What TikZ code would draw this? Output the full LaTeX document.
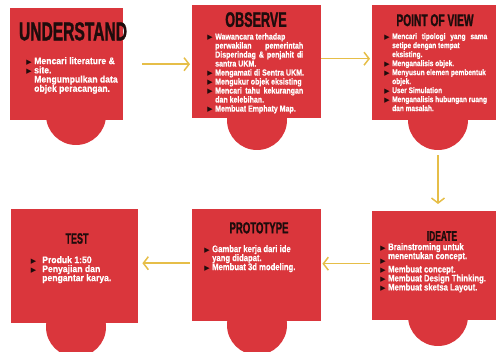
\documentclass[tikz,border=0pt]{standalone}
\usepackage{fontspec}
\setmainfont{Liberation Sans}
\newfontfamily\headfont{Liberation Sans}[FakeStretch=0.6,FakeBold=1.2]
\newfontfamily\bodyfont{Liberation Sans}[FakeStretch=0.8,FakeBold=0.5]
\newfontfamily\widebodyfont{Liberation Sans}[FakeStretch=0.9,FakeBold=0.5]
\newfontfamily\symfont{DejaVu Sans}
\usetikzlibrary{arrows.meta}

\definecolor{boxred}{RGB}{218,54,60}
\definecolor{headink}{RGB}{30,12,12}
\definecolor{flow}{RGB}{230,190,72}

% dark triangular bullet hanging left of a line
\newcommand{\tri}{\leavevmode\llap{{\symfont\fontsize{7}{5}\selectfont\color{headink}▶}\hspace{2.5pt}}}
\newcommand{\trilow}{\leavevmode\llap{\raisebox{-4.5pt}{\symfont\fontsize{7}{5}\selectfont\color{headink}▶}\hspace{2.5pt}}}
\newcommand{\triwide}{\leavevmode\llap{{\symfont\fontsize{7}{5}\selectfont\color{headink}▶}\hspace{6pt}}}

\tikzset{
  card/.style={fill=boxred, draw=none, inner sep=0, anchor=north west},
  tab/.style={circle, fill=boxred, draw=none, minimum size=60pt, inner sep=0},
  heading/.style={text=headink, inner sep=0, anchor=north},
  body/.style={text=white, align=left, inner sep=0, anchor=north west},
  flowarrow/.style={draw=flow, line width=1.5pt, -{Straight Barb[length=5pt,width=13pt]}}
}

\begin{document}
\begin{tikzpicture}[x=1pt,y=-1pt]
\useasboundingbox (0,0) rectangle (496,352);

% semicircular tabs under the cards
\node[tab] (ut)  at (76,115) {};
\node[tab] (ot)  at (257,120) {};
\node[tab] (pt)  at (438,120) {};
\node[tab] (it)  at (438,316) {};
\node[tab] (prt) at (257,325) {};
\node[tab] (tt)  at (76,327) {};

% cards
\node[card, minimum width=113pt, minimum height=112pt] (u)  at (10,8)   {};
\node[card, minimum width=129pt, minimum height=113pt] (o)  at (192,5)  {};
\node[card, minimum width=124pt, minimum height=115pt] (p)  at (372,5)  {};
\node[card, minimum width=124pt, minimum height=109pt] (i)  at (372,211) {};
\node[card, minimum width=129pt, minimum height=112pt] (pr) at (192,209) {};
\node[card, minimum width=127pt, minimum height=114pt] (t)  at (11,209) {};

% headings
\node[heading, font=\headfont\bfseries\fontsize{26}{26}\selectfont] (uh) at (73,22) {UNDERSTAND};
\node[heading, font=\headfont\bfseries\fontsize{21}{21}\selectfont] (oh) at (256,12) {OBSERVE};
\node[heading, font=\headfont\bfseries\fontsize{17}{17}\selectfont] (ph) at (435,14) {POINT OF VIEW};
\node[heading, font=\headfont\bfseries\fontsize{14}{14}\selectfont] (ih) at (442,231) {IDEATE};
\node[heading, font=\headfont\bfseries\fontsize{16}{16}\selectfont] (prh) at (259,222) {PROTOTYPE};
\node[heading, font=\headfont\bfseries\fontsize{15}{15}\selectfont] (th) at (77,233) {TEST};

% bullet texts
\node[body, font=\widebodyfont\bfseries\fontsize{9.6}{9.2}\selectfont] (ub) at (34,57) {%
\tri Mencari literature \&\\
\tri site.\\
Mengumpulkan data\\
objek peracangan.};

\node[body, font=\bodyfont\bfseries\fontsize{8.8}{9}\selectfont] (ob) at (215,33) {%
\tri Wawancara terhadap\\
\makebox[88pt][s]{perwakilan pemerintah}\\
\makebox[88pt][s]{Disperindag \& penjahit di}\\
santra UKM.\\
\tri Mengamati di Sentra UKM.\\
\tri Mengukur objek eksisting\\
\tri\makebox[88pt][s]{Mencari tahu kekurangan}\\
dan kelebihan.\\
\tri Membuat Emphaty Map.};

\node[body, font=\bodyfont\bfseries\fontsize{8.2}{9}\selectfont] (pb) at (392,33) {%
\tri\makebox[95pt][s]{Mencari tipologi yang sama}\\
setipe dengan tempat\\
eksisting.\\
\tri Menganalisis objek.\\
\tri Menyusun elemen pembentuk\\
objek.\\
\tri User Simulation\\
\tri Menganalisis hubungan ruang\\
dan masalah.};

\node[body, font=\bodyfont\bfseries\fontsize{9.6}{9}\selectfont] (ib) at (388,243) {%
\tri Brainstroming untuk\\
\trilow menentukan concept.\\
\tri Membuat concept.\\
\tri Membuat Design Thinking.\\
\tri Membuat sketsa Layout.};

\node[body, font=\bodyfont\bfseries\fontsize{9.6}{9}\selectfont] (prb) at (212,245) {%
\tri Gambar kerja dari ide\\
yang didapat.\\
\tri Membuat 3d modeling.};

\node[body, font=\widebodyfont\bfseries\fontsize{9.6}{9}\selectfont] (tb) at (42,256) {%
\triwide Produk 1:50\\
\triwide Penyajian dan\\
pengantar karya.};

% flow connectors
\draw[flowarrow, shorten <=19pt, shorten >=2pt] (u.east) -- (u.east -| o.west);
\draw[flowarrow, shorten <=0pt, shorten >=2pt] ([yshift=3pt]o.east) -- ([yshift=3pt]o.east -| p.west);
\draw[flowarrow, shorten <=5pt, shorten >=7pt] (pt.south) -- (pt.south |- i.north);
\draw[flowarrow, shorten <=2pt, shorten >=1pt] ([yshift=2pt]i.west) -- ([yshift=2pt]i.west -| pr.east);
\draw[flowarrow, shorten <=2pt, shorten >=4pt] ([yshift=2pt]pr.west) -- ([yshift=2pt]pr.west -| t.east);
\end{tikzpicture}
\end{document}
